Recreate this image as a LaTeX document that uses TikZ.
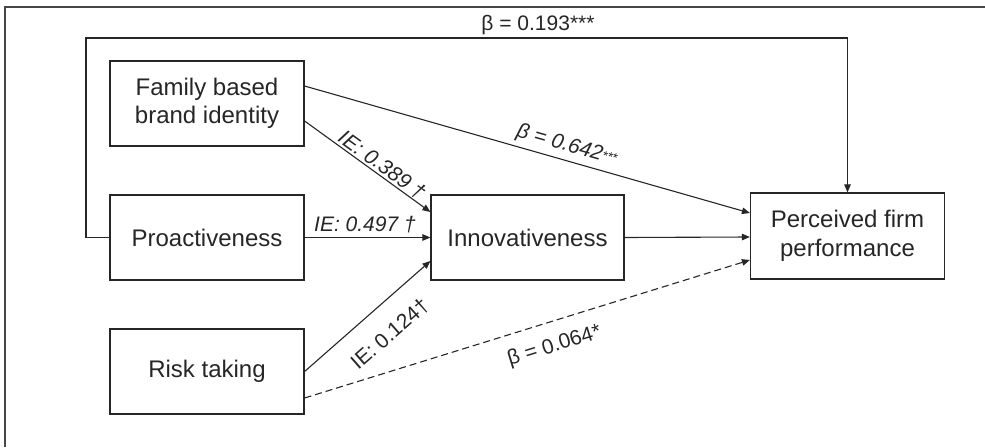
\documentclass[tikz,border=0pt]{standalone}
\usepackage{fontspec}
\setmainfont{Liberation Sans}
\usetikzlibrary{arrows.meta,calc}

\definecolor{ink}{HTML}{262626}

\tikzset{
  box/.style={draw=ink, line width=1.2pt, minimum width=194pt, minimum height=85pt,
    align=center, inner sep=0pt, text=ink,
    font=\fontsize{24}{28.5}\selectfont},
  conn/.style={draw=ink, line width=1.1pt, -{Triangle[length=8pt,width=6.5pt]}},
  dashconn/.style={conn, dash pattern=on 7pt off 4pt},
  lab/.style={text=ink, inner sep=0pt, anchor=base, font=\fontsize{21}{24}\selectfont},
  itlab/.style={lab, font=\fontsize{21}{24}\selectfont\itshape},
}

\newcommand{\smallstars}{{\fontsize{13}{13}\selectfont\raisebox{2pt}{***}}}

\begin{document}
\begin{tikzpicture}[x=1pt, y=-1pt]
  \useasboundingbox (0,0) rectangle (985,447);

  % frame (only its left and top edges fall inside the page)
  \draw[ink!85, line width=1.5pt] (5,447) -- (5,7) -- (985,7);

  % constructs
  \node[box] (fam)  at (207,103.5) {Family based\\brand identity};
  \node[box] (pro)  at (207,237.5) {Proactiveness};
  \node[box] (risk) at (207,371.5) {Risk taking};
  \node[box, minimum width=193pt] (inn) at (527.5,237.5) {Innovativeness};
  \node[box, minimum height=86pt] (perf) at (847.5,236) {Perceived firm\\performance};

  % direct effect of proactiveness, routed over the top
  \coordinate (loopa) at (86,237.5);
  \coordinate (loopb) at (86,38);
  \coordinate (loopc) at (847.5,38);
  \draw[conn] (pro.west) -- (loopa) -- (loopb) -- (loopc) -- (perf.north);
  \node[lab] (b193) at (538,30) {β = 0.193***};

  % paths into innovativeness
  \draw[conn] ([yshift=-17.5pt]fam.east) -- ([yshift=25.5pt]inn.west)
    node[itlab, sloped, pos=0.57, yshift=3pt] (ie389) {IE: 0.389 †};
  \draw[conn] (pro.east) -- (inn.west)
    node[itlab, pos=0.48, yshift=6pt] (ie497) {IE: 0.497 †};
  \draw[conn] (risk.east) -- ([yshift=-23.5pt]inn.west)
    node[lab, sloped, pos=0.53, yshift=-35pt] (ie124) {IE: 0.124†};

  % paths into firm performance
  \draw[conn] ([yshift=17.5pt]fam.east) -- ([yshift=23pt]perf.west)
    node[itlab, sloped, pos=0.58, yshift=9pt] (b642) {β = 0.642\smallstars};
  \draw[conn] (inn.east) -- ([yshift=-1pt]perf.west);
  \draw[dashconn] ([yshift=-26.5pt]risk.east) -- ([yshift=-24pt]perf.west)
    node[lab, sloped, pos=0.545, yshift=-30pt] (b064) {β = 0.064*};
\end{tikzpicture}
\end{document}
